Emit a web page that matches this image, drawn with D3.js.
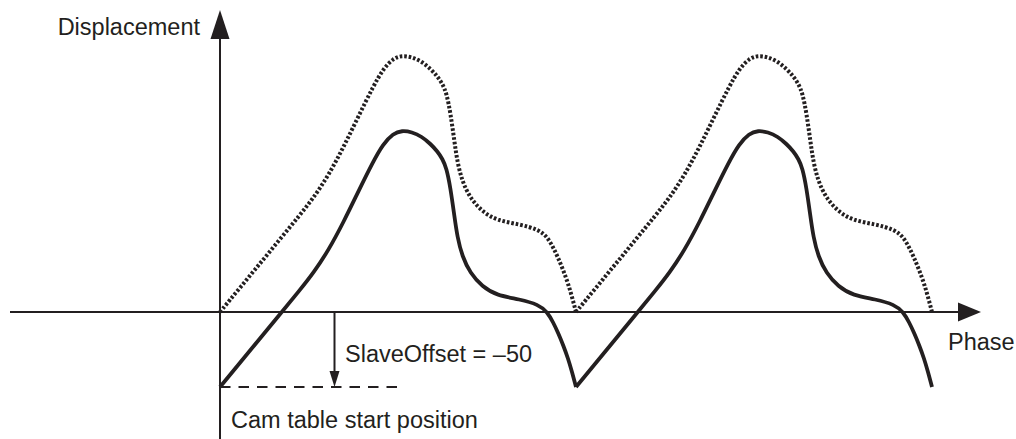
<!DOCTYPE html>
<html>
<head>
<meta charset="utf-8">
<script src="https://cdn.jsdelivr.net/npm/d3@7/dist/d3.min.js"></script>
<style>
  html, body { margin: 0; padding: 0; background: #fff; }
  svg { display: block; }
  text { font-family: "Liberation Sans", Arial, Helvetica, sans-serif; fill: #231f20; }
</style>
</head>
<body>
<svg id="chart" width="1016" height="439"></svg>
<script>
// Cam profile for one cycle: phase (deg) and displacement
const camPhase = [0, 20, 40, 60, 80, 95, 110, 125, 140, 155, 165, 175, 184, 194, 204, 213, 220, 225, 229, 233, 237, 240, 245, 253, 265, 280, 303, 322, 331, 337, 342, 347, 352, 356, 360];
const camDisplacement = [0, 16, 32, 48, 64, 76.5, 91.5, 110, 130.5, 150.5, 162, 169, 171, 170, 167, 162, 157, 152, 146, 133, 114, 100, 87, 76, 67, 61, 58.5, 55, 50, 43, 36, 28, 19, 10, 0];
const cycles = [0, 1];
const cycleLength = 360;
const slaveOffset = -50;

const axisLabels = { y: "Displacement", x: "Phase" };
const offsetLabel = "SlaveOffset = \u201350";
const startLabel = "Cam table start position";

const ink = "#231f20";
const svg = d3.select("#chart");

const x = d3.scaleLinear().domain([0, 720]).range([220, 932]);
const y = d3.scaleLinear().domain([0, -50]).range([312, 387]);

const profile = camPhase.map((p, i) => ({ p, d: camDisplacement[i] }));

const line = d3.line().curve(d3.curveBasis);

// Axes
const x0 = x(0), y0 = y(0);
svg.append("line").attr("x1", 10).attr("x2", 962).attr("y1", y0).attr("y2", y0)
  .attr("stroke", ink).attr("stroke-width", 2);
svg.append("path").attr("d", `M${981},${y0} L${958},${y0 - 9.5} L${958},${y0 + 9.5} Z`).attr("fill", ink);

svg.append("line").attr("x1", x0).attr("x2", x0).attr("y1", 439).attr("y2", 36)
  .attr("stroke", ink).attr("stroke-width", 2);
svg.append("path").attr("d", `M${x0},10 L${x0 - 9.5},39 L${x0 + 9.5},39 Z`).attr("fill", ink);

// Cam table start position (dashed) and offset arrow
const yOff = y(slaveOffset);
svg.append("line").attr("x1", x0).attr("x2", 405).attr("y1", yOff).attr("y2", yOff)
  .attr("stroke", ink).attr("stroke-width", 2).attr("stroke-dasharray", "10.5,8");
const ax = 334.5;
svg.append("line").attr("x1", ax).attr("x2", ax).attr("y1", y0).attr("y2", yOff - 12)
  .attr("stroke", ink).attr("stroke-width", 2);
svg.append("path").attr("d", `M${ax},${yOff} L${ax - 5},${yOff - 16} L${ax + 5},${yOff - 16} Z`).attr("fill", ink);

// Curves: cam profile (dotted) and profile shifted by the slave offset (solid)
cycles.forEach(c => {
  svg.append("path")
    .attr("d", line(profile.map(o => [x(c * cycleLength + o.p), y(o.d)])))
    .attr("fill", "none").attr("stroke", ink).attr("stroke-width", 4)
    .attr("stroke-dasharray", "2.6,1.9");
  svg.append("path")
    .attr("d", line(profile.map(o => [x(c * cycleLength + o.p), y(o.d + slaveOffset)])))
    .attr("fill", "none").attr("stroke", ink).attr("stroke-width", 3.8)
    .attr("stroke-linejoin", "miter");
});

// Labels
const fs = "23.5px";
svg.append("text").attr("x", 200).attr("y", 35).attr("text-anchor", "end").style("font-size", fs).text(axisLabels.y);
svg.append("text").attr("x", 948).attr("y", 350).style("font-size", fs).text(axisLabels.x);
svg.append("text").attr("x", 345).attr("y", 362).style("font-size", fs).text(offsetLabel);
svg.append("text").attr("x", 231).attr("y", 428).style("font-size", fs).text(startLabel);
</script>
</body>
</html>
